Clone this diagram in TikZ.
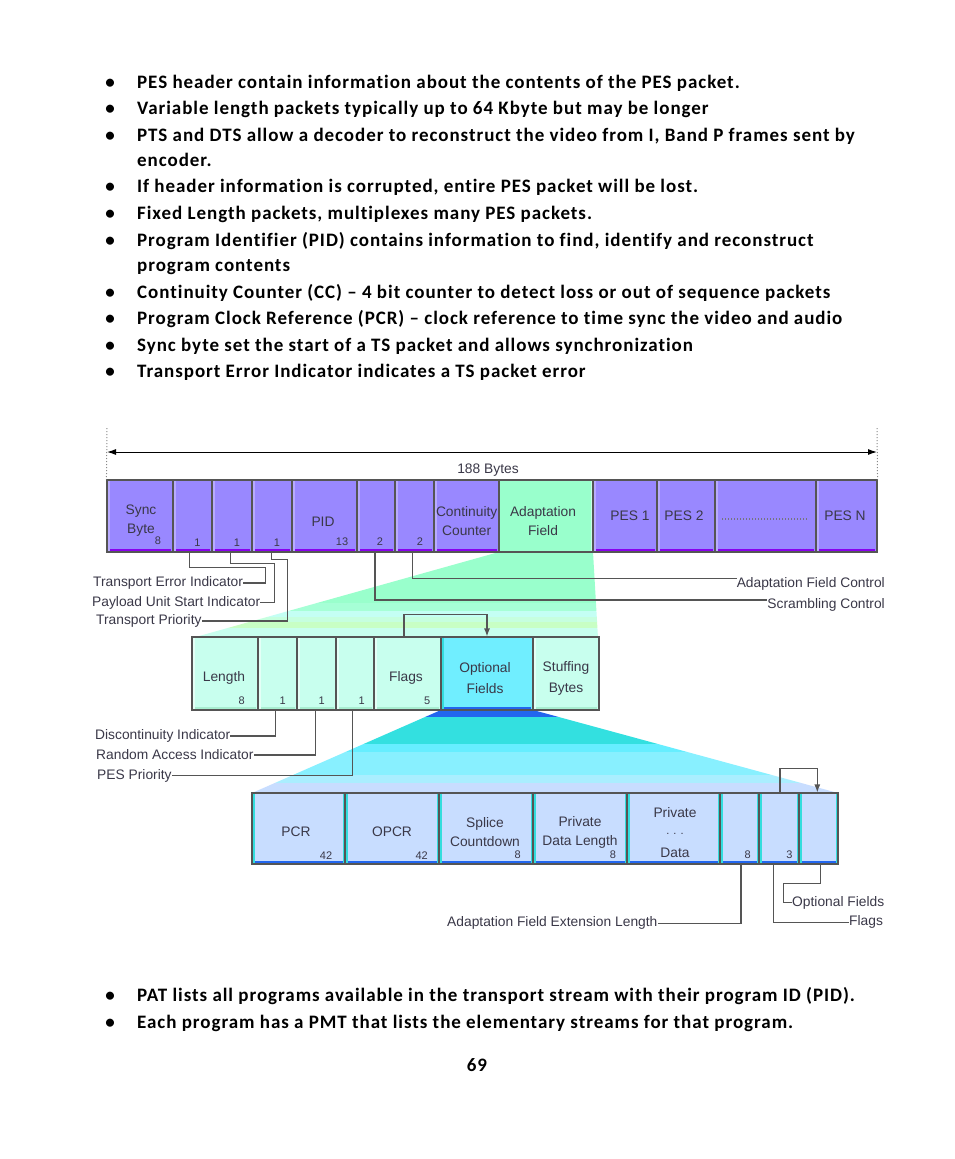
\documentclass[tikz,border=0pt]{standalone}
\usepackage{fontspec}
\setmainfont{Carlito}[Ligatures={TeX,NoCommon},LetterSpace=5.0]
\newfontfamily\diagfont{Liberation Sans}
\usetikzlibrary{arrows.meta}
\definecolor{tsfill}{HTML}{9988FF}
\definecolor{tsbot}{HTML}{8800EE}
\definecolor{tslite}{HTML}{B8AAFF}
\definecolor{afill}{HTML}{99FFCC}
\definecolor{alite}{HTML}{C8FFE8}
\definecolor{mfill}{HTML}{C8FFEE}
\definecolor{mbot}{HTML}{A8EED0}
\definecolor{mlite}{HTML}{E4FFF6}
\definecolor{ofill}{HTML}{70EEFF}
\definecolor{bfill}{HTML}{C8DDFF}
\definecolor{bstrip}{HTML}{2266EE}
\definecolor{cstrip}{HTML}{33DDDD}
\definecolor{lin}{HTML}{555555}
\definecolor{txt}{HTML}{3A3848}
\tikzset{
  bevel/.style n args={4}{fill=#1, path picture={
     \fill[#2] ([yshift=3pt]path picture bounding box.south west) rectangle (path picture bounding box.south east);
     \fill[#3] (path picture bounding box.north west) rectangle ([xshift=2.5pt]path picture bounding box.south west);
     \fill[#4] ([xshift=-2pt]path picture bounding box.north east) rectangle (path picture bounding box.south east);
  }},
  bul/.style={anchor=base west, inner sep=0, font=\fontsize{19}{22}\selectfont\bfseries},
  bdot/.style={anchor=base, inner sep=0, font=\fontsize{19}{22}\selectfont\bfseries},
  lbl/.style={inner sep=0, text=txt, align=center, font=\diagfont\fontsize{13.8}{19}\selectfont},
  num/.style={inner sep=0, text=txt, font=\diagfont\fontsize{11}{12}\selectfont},
  conn/.style={draw=lin, line width=1.2pt},
  fieldbox/.style={draw=lin, line width=1.1pt, inner sep=0},
  tsbox/.style={fieldbox, bevel={tsfill}{tsbot}{tslite}{tsfill}},
  afbox/.style={fieldbox, bevel={afill}{afill}{afill}{alite}},
  midbox/.style={fieldbox, bevel={mfill}{mbot}{mlite}{mfill}},
  optbox/.style={fieldbox, bevel={ofill}{bstrip}{cstrip}{ofill}},
  botbox/.style={fieldbox, bevel={bfill}{bstrip}{cstrip}{cstrip}},
}
\newcommand\fld[6]{\node[#6, minimum width={#4-#2}, minimum height={#5-#3}] (#1) at ({(#2+#4)/2},{(#3+#5)/2}) {};}
\begin{document}
\begin{tikzpicture}[x=1pt,y=-1pt]
\useasboundingbox[fill=white] (0,0) rectangle (954,1159);

% ---------- bullet text ----------
\foreach \yy/\tt in {
 82/{PES header contain information about the contents of the PES packet.},
 108/{Variable length packets typically up to 64 Kbyte but may be longer},
 135/{PTS and DTS allow a decoder to reconstruct the video from I, Band P frames sent by},
 186/{If header information is corrupted, entire PES packet will be lost.},
 213/{Fixed Length packets, multiplexes many PES packets.},
 240/{Program Identifier (PID) contains information to find, identify and reconstruct},
 292/{Continuity Counter (CC) – 4 bit counter to detect loss or out of sequence packets},
 318/{Program Clock Reference (PCR) – clock reference to time sync the video and audio},
 345/{Sync byte set the start of a TS packet and allows synchronization},
 371/{Transport Error Indicator indicates a TS packet error},
 995/{PAT lists all programs available in the transport stream with their program ID (PID).},
 1022/{Each program has a PMT that lists the elementary streams for that program.}}
{
  \node[bdot] (b\yy) at (110,\yy+6) {•};
  \node[bul] (t\yy) at (137,\yy+6) {\tt};
}
\node[bul] (t160) at (137,166) {encoder.};
\node[bul] (t265) at (137,271) {program contents};
\node[bdot] (pageno) at (477,1071) {69};

% ---------- funnels ----------
\begin{scope}
  \clip (499,552) -- (593,552) -- (598,638) -- (192,638) -- cycle;
  \fill[afill] (150,552) rectangle (650,603);
  \fill[color={rgb,255:red,166;green,255;blue,214}] (150,603) rectangle (650,611);
  \fill[color={rgb,255:red,196;green,255;blue,244}] (150,611) rectangle (650,617);
  \fill[color={rgb,255:red,198;green,255;blue,223}] (150,617) rectangle (650,622);
  \fill[color={rgb,255:red,200;green,255;blue,196}] (150,622) rectangle (650,628);
  \fill[mfill] (150,628) rectangle (650,638);
\end{scope}
\begin{scope}
  \clip (441,710) -- (533,710) -- (838,793) -- (252,793) -- cycle;
  \fill[bstrip] (240,708) rectangle (850,717);
  \fill[color={rgb,255:red,51;green,224;blue,224}] (240,717) rectangle (850,744);
  \fill[color={rgb,255:red,102;green,238;blue,255}] (240,744) rectangle (850,752);
  \fill[color={rgb,255:red,136;green,240;blue,255}] (240,752) rectangle (850,775);
  \fill[color={rgb,255:red,170;green,238;blue,255}] (240,775) rectangle (850,783);
  \fill[bfill] (240,783) rectangle (850,793);
\end{scope}

% ---------- top row ----------
\fld{ts1}{107}{480}{173}{552}{tsbox}
\fld{ts2}{173}{480}{212}{552}{tsbox}
\fld{ts3}{212}{480}{252}{552}{tsbox}
\fld{ts4}{252}{480}{292}{552}{tsbox}
\fld{tpid}{292}{480}{357}{552}{tsbox}
\fld{tsc}{357}{480}{395}{552}{tsbox}
\fld{tafc}{395}{480}{434}{552}{tsbox}
\fld{tcc}{434}{480}{499}{552}{tsbox}
\fld{taf}{499}{480}{593}{552}{afbox}
\fld{tp1}{593}{480}{657}{552}{tsbox}
\fld{tp2}{657}{480}{715}{552}{tsbox}
\fld{tdots}{715}{480}{816}{552}{tsbox}
\fld{tpn}{816}{480}{877}{552}{tsbox}

% ---------- middle row ----------
\fld{mlen}{192}{637}{258}{710}{midbox}
\fld{mb1}{258}{637}{297}{710}{midbox}
\fld{mb2}{297}{637}{336}{710}{midbox}
\fld{mb3}{336}{637}{374}{710}{midbox}
\fld{mflags}{374}{637}{441}{710}{midbox}
\fld{mopt}{441}{637}{533}{710}{optbox}
\fld{mstuff}{533}{637}{599}{710}{midbox}

% ---------- bottom row ----------
\fld{bpcr}{252}{793}{345}{864}{botbox}
\fld{bopcr}{345}{793}{439}{864}{botbox}
\fld{bsplice}{439}{793}{533}{864}{botbox}
\fld{bpdl}{533}{793}{627}{864}{botbox}
\fld{bpd}{627}{793}{720}{864}{botbox}
\fld{bext}{720}{793}{759}{864}{botbox}
\fld{bflags}{759}{793}{799}{864}{botbox}
\fld{bopt}{799}{793}{838}{864}{botbox}

% ---------- 188 bytes ----------
\coordinate (dL) at (107,428);
\coordinate (dR) at (877,428);
\draw[lin!70, line width=1pt, dotted] (dL) -- (ts1.north west);
\draw[lin!70, line width=1pt, dotted] (dR) -- (tpn.north east);
\coordinate (aL) at (107,452);
\coordinate (aR) at (877,452);
\draw[black, line width=1pt, {Latex[length=9pt,width=6pt]}-{Latex[length=9pt,width=6pt]}] (aL) -- (aR);
\node[lbl] (bytes) at (488,470) {188 Bytes};

% ---------- labels ----------
\node[lbl, anchor=west] (lTEI) at (93,583) {Transport Error Indicator};
\node[lbl, anchor=west] (lPUSI) at (92,602.7) {Payload Unit Start Indicator};
\node[lbl, anchor=west] (lTP) at (96,621) {Transport Priority};
\node[lbl, anchor=east] (lAFC) at (885,584) {Adaptation Field Control};
\node[lbl, anchor=east] (lSC) at (885,605) {Scrambling Control};
\node[lbl, anchor=west] (lDI) at (95,736) {Discontinuity Indicator};
\node[lbl, anchor=west] (lRAI) at (96,755) {Random Access Indicator};
\node[lbl, anchor=west] (lPESP) at (97,775.7) {PES Priority};
\node[lbl, anchor=west] (lAFEL) at (447,923.3) {Adaptation Field Extension Length};
\node[lbl, anchor=west] (lOF) at (792,902.7) {Optional Fields};
\node[lbl, anchor=west] (lFL) at (849,922.3) {Flags};

% ---------- connectors ----------
\draw[conn] ([xshift=-3pt]ts2.south) -- ++(0,14.7) -| ([xshift=22pt]lTEI.east) -- (lTEI.east);
\draw[conn] ([xshift=-1.3pt]ts3.south) -- ++(0,11.3) -| ([xshift=14pt]lPUSI.east) -- (lPUSI.east);
\draw[conn] ([xshift=-0.3pt]ts4.south) -- ++(0,7.3) -| ([xshift=86pt]lTP.east) -- (lTP.east);
\draw[conn] ([xshift=-2.2pt]tafc.south) |- ([yshift=5.7pt]lAFC.west);
\draw[conn] ([xshift=-1pt]tsc.south) |- ([yshift=5pt]lSC.west);
\draw[conn, -{Latex[length=8pt,width=6pt]}] ([xshift=-3.5pt]mflags.north) -- ++(0,-22) -| (mopt.north);
\draw[conn] ([xshift=-1.8pt]mb1.south) |- (lDI.east);
\draw[conn] ([xshift=-0.8pt]mb2.south) |- (lRAI.east);
\draw[conn] ([xshift=-2.7pt]mb3.south) |- (lPESP.east);
\draw[conn, -{Latex[length=8pt,width=6pt]}] ([xshift=1pt]bflags.north) -- ++(0,-24) -| ([xshift=-1.2pt]bopt.north);
\draw[conn] ([xshift=1.5pt]bext.south) |- (lAFEL.east);
\draw[conn] ([xshift=2.2pt]bopt.south) -- ++(0,19.3) -| ([xshift=-8.5pt]lOF.west) -- (lOF.west);
\draw[conn] ([xshift=-5.7pt]bflags.south) |- (lFL.west);

% ---------- texts in boxes ----------
\node[lbl] (tx1) at (141,520.5) {Sync\\Byte};
\node[lbl] (tx2) at (323,521.7) {PID};
\node[lbl] (tx3) at (466.7,521.5) {Continuity\\Counter};
\node[lbl] (tx4) at (543,521) {Adaptation\\Field};
\node[lbl] (tx5) at (630,516) {PES 1};
\node[lbl] (tx6) at (684,516) {PES 2};
\node[lbl] (tx7) at (845,515.5) {PES N};
\draw[txt!70, line width=1.1pt, dash pattern=on 0.9pt off 2.1pt] ([xshift=8pt,yshift=-3pt]tdots.west) -- ([xshift=-8pt,yshift=-3pt]tdots.east);
\node[num] at (158,541) {8};
\node[num] at (197.5,542.5) {1};
\node[num] at (237,542.5) {1};
\node[num] at (277,542.5) {1};
\node[num] at (342,542) {13};
\node[num] at (380,542) {2};
\node[num] at (420,542) {2};

\node[lbl] (mx1) at (224,678) {Length};
\node[lbl] (mx2) at (406,678) {Flags};
\node[lbl, font=\diagfont\fontsize{13.8}{21}\selectfont] (mx3) at (485,678.5) {Optional\\Fields};
\node[lbl, font=\diagfont\fontsize{13.8}{21}\selectfont] (mx4) at (566,678.5) {Stuffing\\Bytes};
\node[num] at (241.7,701) {8};
\node[num] at (282.7,701) {1};
\node[num] at (321.7,701) {1};
\node[num] at (361.7,701) {1};
\node[num] at (427.3,701) {5};

\node[lbl] (bx1) at (296,832) {PCR};
\node[lbl] (bx2) at (392,832) {OPCR};
\node[lbl] (bx3) at (485,832.5) {Splice\\Countdown};
\node[lbl] (bx4) at (580,832.5) {Private\\Data Length};
\node[lbl] (bx5) at (675,813) {Private};
\node[num] (bx6) at (675,834) {. . .};
\node[lbl] (bx7) at (675,853) {Data};
\node[num] at (326,855.7) {42};
\node[num] at (421.7,855.7) {42};
\node[num] at (517.7,855) {8};
\node[num] at (613,855) {8};
\node[num] at (747.7,855) {8};
\node[num] at (789.3,855) {3};
\end{tikzpicture}
\end{document}
